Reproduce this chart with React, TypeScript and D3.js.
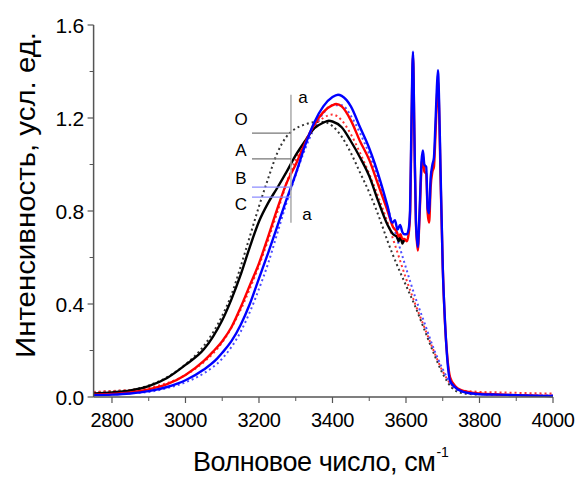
import React from "react";
import * as d3 from "d3";

type P = [number, number];

// X axis ticks (wavenumber, cm-1)
const xMajor = [2800, 3000, 3200, 3400, 3600, 3800, 4000];
const xMinor = [2900, 3100, 3300, 3500, 3700, 3900];
const yMajor = [0, 0.4, 0.8, 1.2, 1.6];
const yMinor = [0.2, 0.6, 1.0, 1.4];

// Experimental spectra (solid)
const seriesO: P[] = [
  [2750, 0.015], [2800, 0.02], [2850, 0.028], [2900, 0.047], [2950, 0.082], [3000, 0.138],
  [3050, 0.205], [3075, 0.26], [3100, 0.33], [3125, 0.42], [3150, 0.525], [3175, 0.645],
  [3200, 0.755], [3225, 0.835], [3250, 0.9], [3275, 0.968], [3300, 1.04], [3325, 1.1],
  [3350, 1.155], [3375, 1.18], [3390, 1.188], [3400, 1.185], [3425, 1.16], [3450, 1.1],
  [3475, 1.03], [3500, 0.95], [3525, 0.84], [3550, 0.74], [3565, 0.7], [3575, 0.69],
  [3580, 0.67], [3585, 0.69], [3590, 0.66], [3596, 0.68],
];

const seriesA: P[] = [
  [2750, 0.01], [2800, 0.013], [2850, 0.02], [2900, 0.033], [2950, 0.055], [3000, 0.095],
  [3050, 0.155], [3075, 0.195], [3100, 0.24], [3125, 0.3], [3150, 0.385], [3175, 0.48],
  [3200, 0.575], [3225, 0.69], [3250, 0.81], [3275, 0.92], [3300, 1.0], [3325, 1.09],
  [3350, 1.17], [3375, 1.225], [3400, 1.255], [3410, 1.26], [3425, 1.25], [3450, 1.19],
  [3475, 1.1], [3500, 1.02], [3525, 0.91], [3550, 0.8], [3565, 0.73], [3575, 0.71],
  [3580, 0.69], [3585, 0.7], [3590, 0.68], [3596, 0.68], [3602, 0.67], [3607, 0.7],
  [3611, 0.78], [3615, 1.15], [3619, 1.47], [3623, 1.1], [3627, 0.75], [3632, 0.63],
  [3637, 0.78], [3642, 0.98], [3646, 1.04], [3650, 0.97], [3655, 0.96], [3659, 0.79],
  [3663, 0.75], [3667, 0.9], [3672, 0.97], [3676, 0.99], [3680, 1.12], [3684, 1.28],
  [3687, 1.36], [3690, 1.24], [3694, 0.95], [3700, 0.56], [3706, 0.32], [3712, 0.18],
  [3720, 0.085], [3735, 0.045], [3750, 0.03], [3775, 0.02], [3800, 0.015], [3850, 0.011],
  [3900, 0.008], [3950, 0.006], [4000, 0.004],
];

const seriesC: P[] = [
  [2750, 0.008], [2800, 0.01], [2850, 0.015], [2900, 0.025], [2950, 0.043], [3000, 0.072],
  [3050, 0.118], [3086, 0.165], [3100, 0.19], [3125, 0.24], [3150, 0.31], [3175, 0.4],
  [3200, 0.51], [3225, 0.62], [3250, 0.735], [3275, 0.85], [3300, 0.96], [3325, 1.08],
  [3350, 1.18], [3375, 1.25], [3400, 1.29], [3415, 1.3], [3425, 1.295], [3450, 1.25],
  [3475, 1.16], [3500, 1.07], [3530, 0.93], [3550, 0.82], [3562, 0.75], [3570, 0.76],
  [3577, 0.72], [3584, 0.74], [3590, 0.71], [3596, 0.7], [3602, 0.7], [3607, 0.72],
  [3611, 0.8], [3615, 1.2], [3619, 1.485], [3623, 1.12], [3627, 0.76], [3632, 0.645],
  [3637, 0.8], [3642, 1.01], [3646, 1.06], [3650, 1.0], [3655, 0.99], [3659, 0.81],
  [3663, 0.79], [3667, 0.94], [3672, 1.0], [3676, 1.03], [3680, 1.17], [3684, 1.33],
  [3687, 1.406], [3690, 1.28], [3694, 0.98], [3700, 0.56], [3706, 0.33], [3712, 0.17],
  [3720, 0.07], [3735, 0.04], [3750, 0.025], [3775, 0.016], [3800, 0.012], [3850, 0.01],
  [3900, 0.008], [3950, 0.006], [4000, 0.004],
];

// Fitted envelopes (dotted)
const fitO: P[] = [
  [2750, 0.02], [2800, 0.025], [2850, 0.03], [2900, 0.05], [2950, 0.085], [3000, 0.14],
  [3050, 0.22], [3100, 0.35], [3125, 0.44], [3150, 0.56], [3175, 0.69], [3200, 0.82],
  [3225, 0.94], [3250, 1.05], [3275, 1.12], [3300, 1.155], [3325, 1.172], [3350, 1.182],
  [3375, 1.183], [3400, 1.165], [3425, 1.12], [3450, 1.05], [3475, 0.965], [3500, 0.88],
  [3530, 0.76], [3550, 0.67], [3575, 0.57], [3600, 0.48], [3625, 0.39], [3650, 0.29],
  [3675, 0.19], [3700, 0.1], [3725, 0.04], [3750, 0.018], [3800, 0.01],
];

const fitA: P[] = [
  [2750, 0.022], [2800, 0.026], [2850, 0.03], [2900, 0.04], [2950, 0.06], [3000, 0.095],
  [3050, 0.15], [3100, 0.235], [3150, 0.375], [3175, 0.465], [3200, 0.565], [3225, 0.675],
  [3250, 0.795], [3275, 0.92], [3300, 1.02], [3325, 1.1], [3350, 1.165], [3375, 1.2],
  [3400, 1.215], [3425, 1.19], [3450, 1.13], [3475, 1.05], [3500, 0.96], [3525, 0.86],
  [3550, 0.75], [3575, 0.63], [3600, 0.51], [3625, 0.4], [3650, 0.3], [3675, 0.2],
  [3700, 0.11], [3725, 0.05], [3750, 0.03], [3800, 0.022], [3850, 0.02], [3900, 0.018],
  [3950, 0.016], [4000, 0.015],
];

const fitC: P[] = [
  [2750, 0.01], [2800, 0.012], [2850, 0.016], [2900, 0.022], [2950, 0.038], [3000, 0.063],
  [3050, 0.102], [3100, 0.165], [3150, 0.28], [3175, 0.365], [3200, 0.465], [3225, 0.575],
  [3250, 0.705], [3275, 0.835], [3300, 0.955], [3325, 1.065], [3350, 1.155], [3375, 1.22],
  [3400, 1.255], [3425, 1.255], [3450, 1.21], [3475, 1.135], [3500, 1.045], [3525, 0.935],
  [3550, 0.815], [3575, 0.685], [3600, 0.555], [3625, 0.43], [3650, 0.32], [3675, 0.21],
  [3700, 0.12], [3725, 0.05], [3750, 0.025], [3800, 0.012], [3900, 0.008], [4000, 0.006],
];

// Annotation: cut a–a and level labels
const cutWave = 3287;
const cutRange = [0.75, 1.3];
const levelLabels = ["O", "A", "B", "C"];
const levelValues = [1.135, 1.024, 0.903, 0.86];
const levelStart = 3181;

const W = 581;
const H = 478;
const FONT = "'Liberation Sans', Arial, sans-serif";

export default function App() {
  const x = d3.scaleLinear().domain([2750, 4000]).range([93.6, 553]);
  const y = d3.scaleLinear().domain([0, 1.6]).range([397, 25]);
  const line = d3
    .line<P>()
    .x((d) => x(d[0]))
    .y((d) => y(d[1]))
    .curve(d3.curveMonotoneX);

  const solids: { data: P[]; color: string }[] = [
    { data: seriesO, color: "#000000" },
    { data: seriesA, color: "#ff0000" },
    { data: seriesC, color: "#0000ff" },
  ];
  const fits: { data: P[]; color: string }[] = [
    { data: fitO, color: "#333333" },
    { data: fitA, color: "#ff3333" },
    { data: fitC, color: "#4d4dff" },
  ];
  const levelColors = ["#777777", "#777777", "#8c8cff", "#8c8cff"];
  const labelBase = [125, 156, 184, 210];

  const axisColor = "#555555";

  return (
    <svg
      width={W}
      height={H}
      style={{ position: "absolute", left: 0, top: 0, background: "#fff" }}
      fontFamily={FONT}
    >
      {/* fits */}
      {fits.map((f, i) => (
        <path
          key={"f" + i}
          d={line(f.data) || ""}
          fill="none"
          stroke={f.color}
          strokeWidth={2}
          strokeDasharray="2 3"
        />
      ))}
      {/* solids */}
      {solids.map((s, i) => (
        <path
          key={"s" + i}
          d={line(s.data) || ""}
          fill="none"
          stroke={s.color}
          strokeWidth={2.4}
          strokeLinejoin="round"
        />
      ))}

      {/* annotation */}
      <line
        x1={x(cutWave)}
        x2={x(cutWave)}
        y1={y(cutRange[1])}
        y2={y(cutRange[0])}
        stroke="#aaaaaa"
        strokeWidth={1.5}
      />
      {levelValues.map((v, i) => (
        <g key={"lv" + i}>
          <line
            x1={x(levelStart)}
            x2={x(cutWave)}
            y1={y(v)}
            y2={y(v)}
            stroke={levelColors[i]}
            strokeWidth={1.2}
          />
          <text x={241} y={labelBase[i]} fontSize={17} textAnchor="middle" fill="#000">
            {levelLabels[i]}
          </text>
        </g>
      ))}
      <text x={303} y={103} fontSize={17} textAnchor="middle">a</text>
      <text x={307} y={220} fontSize={17} textAnchor="middle">a</text>

      {/* axes */}
      <line x1={x(2750)} x2={x(4000)} y1={397} y2={397} stroke={axisColor} strokeWidth={1.5} />
      <line x1={x(2750)} x2={x(2750)} y1={25} y2={397} stroke={axisColor} strokeWidth={1.5} />
      {xMajor.map((t) => (
        <g key={"xm" + t}>
          <line x1={x(t)} x2={x(t)} y1={397} y2={403} stroke={axisColor} strokeWidth={1.2} />
          <text x={x(t)} y={427} fontSize={20} textAnchor="middle" letterSpacing={-0.4}>
            {t}
          </text>
        </g>
      ))}
      {xMinor.map((t) => (
        <line key={"xn" + t} x1={x(t)} x2={x(t)} y1={397} y2={401} stroke={axisColor} strokeWidth={1} />
      ))}
      {yMajor.map((t) => (
        <g key={"ym" + t}>
          <line x1={x(2750) - 6} x2={x(2750)} y1={y(t)} y2={y(t)} stroke={axisColor} strokeWidth={1.2} />
          <text x={84} y={y(t) + 7.5} fontSize={21} textAnchor="end" letterSpacing={-0.2}>
            {t.toFixed(1)}
          </text>
        </g>
      ))}
      {yMinor.map((t) => (
        <line key={"yn" + t} x1={x(2750) - 4} x2={x(2750)} y1={y(t)} y2={y(t)} stroke={axisColor} strokeWidth={1} />
      ))}

      {/* titles */}
      <text
        transform="translate(35,195) rotate(-90)"
        fontSize={28}
        textAnchor="middle"
        textLength={326}
        lengthAdjust="spacingAndGlyphs"
      >
        Интенсивность, усл. ед.
      </text>
      <text x={193} y={471} fontSize={27} letterSpacing={-0.45}>
        Волновое число, см
        <tspan fontSize={14} dx={1} dy={-14} letterSpacing={0}>-1</tspan>
      </text>
    </svg>
  );
}
